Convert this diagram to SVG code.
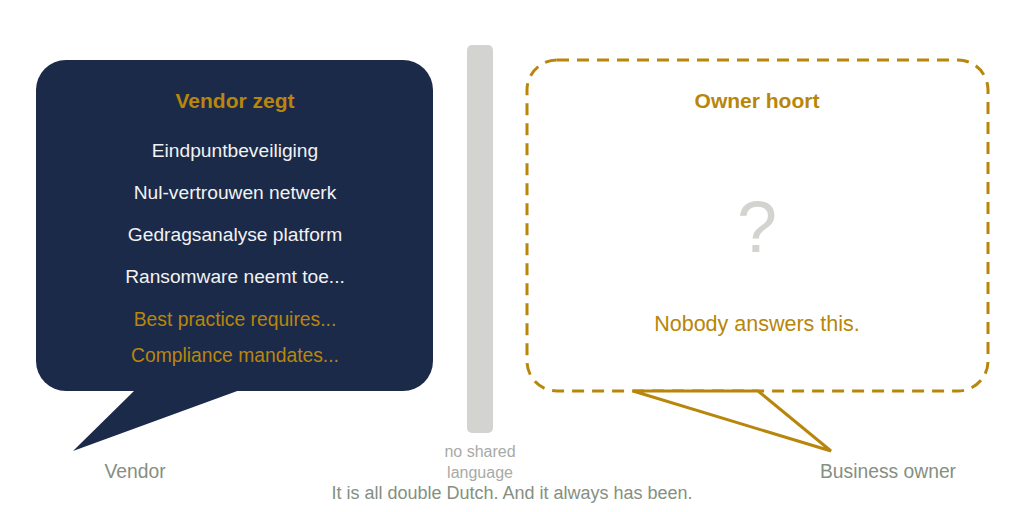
<svg xmlns="http://www.w3.org/2000/svg" width="1024" height="512" viewBox="0 0 1024 512">
<style>
text{font-family:"Liberation Sans",Arial,sans-serif;text-anchor:middle}
.title{font-size:21px;font-weight:bold;fill:#b8860b}
.item{font-size:19.2px;fill:#f2f2f2}
.gold{font-size:19.3px;fill:#b8860b}
.lbl{font-size:19.3px;fill:#858f82}
.mid{font-size:16px;fill:#a8aaa6}
</style>
<rect width="1024" height="512" fill="#ffffff"/>
<g id="vendor-bubble">
<rect x="36" y="60" width="397" height="331" rx="30" fill="#1c2a4a"/>
<polygon points="135,390 73,451 240,390" fill="#1c2a4a"/>
<text class="title" x="235" y="108">Vendor zegt</text>
<text class="item" x="235" y="157">Eindpuntbeveiliging</text>
<text class="item" x="235" y="199">Nul-vertrouwen netwerk</text>
<text class="item" x="235" y="241">Gedragsanalyse platform</text>
<text class="item" x="235" y="283">Ransomware neemt toe...</text>
<text class="gold" x="235" y="326">Best practice requires...</text>
<text class="gold" x="235" y="362">Compliance mandates...</text>
</g>
<g id="divider">
<rect x="467" y="45" width="26" height="388" rx="5" fill="#d3d3cf"/>
<text class="mid" x="480" y="457">no shared</text>
<text class="mid" x="480" y="478">language</text>
</g>
<g id="owner-bubble">
<rect x="527" y="60" width="461" height="331" rx="30" fill="none" stroke="#b8860b" stroke-width="3" stroke-dasharray="12 8"/>
<polygon points="633,391 831,451 758,391" fill="#ffffff" stroke="#b8860b" stroke-width="3" stroke-linejoin="miter"/>
<text class="title" x="757" y="108">Owner hoort</text>
<text x="757" y="252" style="font-size:72px;fill:#d3d3cf">?</text>
<text class="gold" x="757" y="331" style="font-size:21.5px">Nobody answers this.</text>
</g>
<g id="connectors"></g>
<g id="labels">
<text class="lbl" x="135" y="478">Vendor</text>
<text class="lbl" x="888" y="478">Business owner</text>
<text class="lbl" x="512" y="499" style="font-size:18px">It is all double Dutch. And it always has been.</text>
</g>
</svg>
